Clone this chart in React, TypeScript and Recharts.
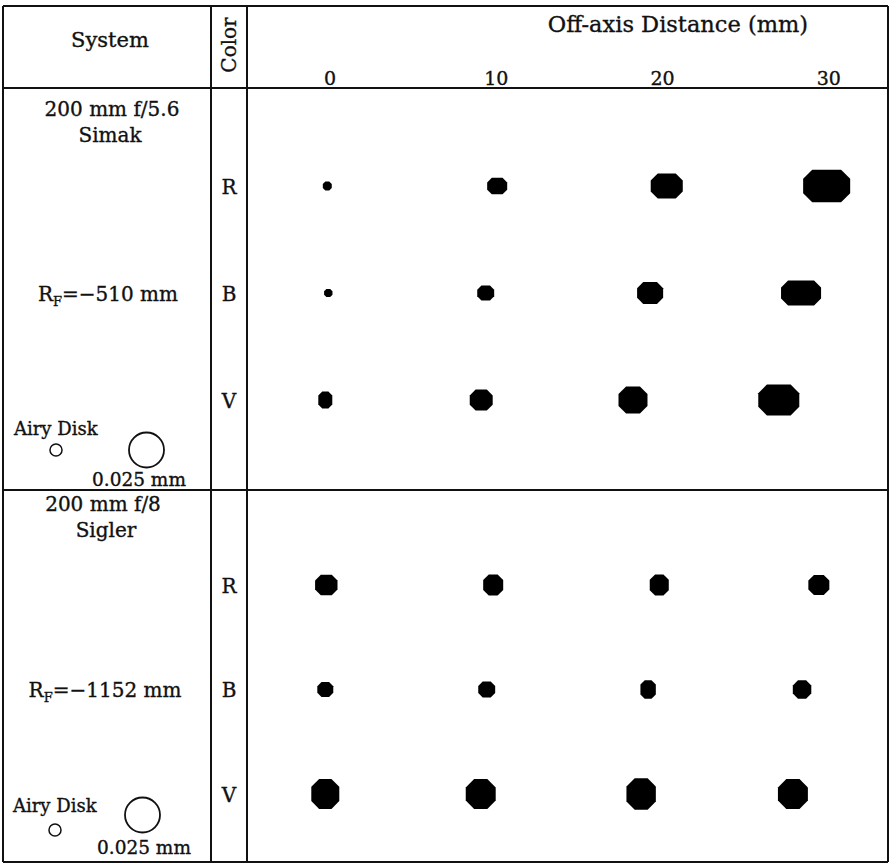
import React from 'react';
import { ScatterChart, Scatter, XAxis, YAxis } from 'recharts';

// ---------- data ----------
const offAxisTicks = [0, 10, 20, 30]; // mm
const colorBands = ['R', 'B', 'V'];

// spot centre positions (mm, along off-axis direction) and spot sizes (µm)
const simakRx = [-0.17, 10.05, 20.25, 29.87];
const simakBx = [-0.11, 9.36, 19.25, 28.33];
const simakVx = [-0.29, 9.09, 18.22, 26.99];
const simakRw = [6.4, 14.3, 22.9, 33.6];
const simakRh = [6.4, 11.8, 17.9, 23.2];
const simakBw = [6.0, 12.1, 18.6, 28.6];
const simakBh = [5.8, 10.7, 15.7, 17.9];
const simakVw = [10.0, 16.4, 20.7, 29.3];
const simakVh = [12.0, 15.0, 19.3, 22.1];

const siglerRx = [-0.23, 9.81, 19.8, 29.4];
const siglerBx = [-0.29, 9.42, 19.13, 28.39];
const siglerVx = [-0.29, 9.06, 18.71, 27.84];
const siglerRw = [16.0, 14.3, 13.6, 15.0];
const siglerRh = [14.6, 15.0, 15.0, 14.3];
const siglerBw = [11.4, 12.1, 11.0, 13.2];
const siglerBh = [10.7, 11.4, 13.2, 13.2];
const siglerVw = [20.0, 21.4, 21.0, 21.4];
const siglerVh = [21.4, 21.4, 22.4, 21.4];

const airyScaleUm = 25; // 0.025 mm reference circle
const airyDiskUm = [8.6, 8.6];

// ---------- helpers ----------
const PX_PER_UM = 35 / airyScaleUm;
const FONT = '"DejaVu Serif", serif';
const INK = '#111';
const TXT = { fill: INK, stroke: INK, strokeWidth: 0.35 };

type Spot = { x: number; y: number; w: number; h: number };
const rows = (xs: number[][], ws: number[][], hs: number[][]): Spot[] =>
  xs.flatMap((row, ci) => row.map((x, i) => ({ x, y: ci, w: ws[ci][i], h: hs[ci][i] })));

const simakData = rows([simakRx, simakBx, simakVx], [simakRw, simakBw, simakVw], [simakRh, simakBh, simakVh]);
const siglerData = rows([siglerRx, siglerBx, siglerVx], [siglerRw, siglerBw, siglerVw], [siglerRh, siglerBh, siglerVh]);

const SpotShape = (props: any) => {
  const { cx, cy, payload } = props;
  const w = payload.w * PX_PER_UM;
  const h = payload.h * PX_PER_UM;
  const c = Math.min(w, h) * 0.28;
  const x0 = cx - w / 2;
  const y0 = cy - h / 2;
  const d = `M${x0 + c},${y0} L${x0 + w - c},${y0} L${x0 + w},${y0 + c} L${x0 + w},${y0 + h - c} L${x0 + w - c},${y0 + h} L${x0 + c},${y0 + h} L${x0},${y0 + h - c} L${x0},${y0 + c} Z`;
  return <path d={d} fill="#000" />;
};

const ColorTick = (props: any) => {
  const { y, payload } = props;
  return (
    <text x={229} y={y} dy={8} textAnchor="middle" fontFamily={FONT} fontSize={20} {...TXT}>
      {colorBands[payload.value]}
    </text>
  );
};

const DistTick = (props: any) => {
  const { x, payload } = props;
  return (
    <text x={x} y={85} textAnchor="middle" fontFamily={FONT} fontSize={19} {...TXT}>
      {payload.value}
    </text>
  );
};

const X_DOMAIN: [number, number] = [-5, 33.5];

export default function App() {
  const W = 890;
  return (
    <div style={{ position: 'absolute', left: 0, top: 0, width: W, height: 864, background: '#fff' }}>
      <div style={{ position: 'absolute', left: 0, top: 0 }}>
        <ScatterChart width={W} height={490} margin={{ top: 58, right: 3, left: 211, bottom: 0 }}>
          <XAxis
            type="number"
            dataKey="x"
            orientation="top"
            domain={X_DOMAIN}
            ticks={offAxisTicks}
            height={30}
            axisLine={false}
            tickLine={false}
            tick={<DistTick />}
          />
          <YAxis
            type="number"
            dataKey="y"
            domain={[-0.916, 2.841]}
            reversed
            ticks={[0, 1, 2]}
            width={36}
            axisLine={false}
            tickLine={false}
            tick={<ColorTick />}
          />
          <Scatter data={simakData} shape={<SpotShape />} isAnimationActive={false} />
        </ScatterChart>
      </div>
      <div style={{ position: 'absolute', left: 0, top: 490 }}>
        <ScatterChart width={W} height={374} margin={{ top: 0, right: 3, left: 211, bottom: 2 }}>
          <XAxis type="number" dataKey="x" domain={X_DOMAIN} hide />
          <YAxis
            type="number"
            dataKey="y"
            domain={[-0.909, 2.651]}
            reversed
            ticks={[0, 1, 2]}
            width={36}
            axisLine={false}
            tickLine={false}
            tick={<ColorTick />}
          />
          <Scatter data={siglerData} shape={<SpotShape />} isAnimationActive={false} />
        </ScatterChart>
      </div>
      <svg
        width={W}
        height={864}
        style={{ position: 'absolute', left: 0, top: 0, pointerEvents: 'none' }}
        fontFamily={FONT}
      >
        <g stroke={INK} strokeWidth={2}>
          <line x1={3} y1={6} x2={888} y2={6} />
          <line x1={3} y1={862} x2={888} y2={862} />
          <line x1={3} y1={6} x2={3} y2={862} />
          <line x1={888} y1={6} x2={888} y2={862} />
          <line x1={3} y1={88} x2={888} y2={88} />
          <line x1={3} y1={490} x2={888} y2={490} />
          <line x1={211} y1={6} x2={211} y2={862} />
          <line x1={247} y1={6} x2={247} y2={862} />
        </g>
        <g {...TXT}>
          <text x={110} y={47} textAnchor="middle" fontSize={21}>System</text>
          <text transform="translate(229,45) rotate(-90)" x={0} y={7} textAnchor="middle" fontSize={20}>Color</text>
          <text x={678} y={32} textAnchor="middle" fontSize={22.5}>Off-axis Distance (mm)</text>

          <text x={112} y={116} textAnchor="middle" fontSize={20}>200 mm f/5.6</text>
          <text x={110} y={142} textAnchor="middle" fontSize={20}>Simak</text>
          <text x={108} y={301} textAnchor="middle" fontSize={20}>
            R<tspan fontSize={13} dy={5}>F</tspan>
            <tspan dy={-5}>=−510 mm</tspan>
          </text>
          <text x={14} y={435} fontSize={18}>Airy Disk</text>
          <text x={139} y={486} textAnchor="middle" fontSize={18.5}>0.025 mm</text>

          <text x={103} y={511} textAnchor="middle" fontSize={20}>200 mm f/8</text>
          <text x={106} y={537} textAnchor="middle" fontSize={20}>Sigler</text>
          <text x={105} y={697} textAnchor="middle" fontSize={20}>
            R<tspan fontSize={13} dy={5}>F</tspan>
            <tspan dy={-5}>=−1152 mm</tspan>
          </text>
          <text x={13} y={812} fontSize={18}>Airy Disk</text>
          <text x={144} y={854} textAnchor="middle" fontSize={18.5}>0.025 mm</text>
        </g>
        <circle cx={56} cy={450} r={(airyDiskUm[0] * PX_PER_UM) / 2} fill="none" stroke={INK} strokeWidth={1.5} />
        <circle cx={146.5} cy={450} r={(airyScaleUm * PX_PER_UM) / 2} fill="none" stroke={INK} strokeWidth={1.8} />
        <circle cx={55} cy={830} r={(airyDiskUm[1] * PX_PER_UM) / 2} fill="none" stroke={INK} strokeWidth={1.5} />
        <circle cx={142.5} cy={815} r={(airyScaleUm * PX_PER_UM) / 2} fill="none" stroke={INK} strokeWidth={1.8} />
      </svg>
    </div>
  );
}
